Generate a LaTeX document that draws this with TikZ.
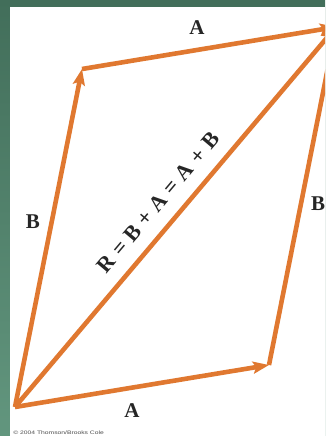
\documentclass[tikz,border=0pt]{standalone}
\usepackage{fontspec}
\setmainfont{Liberation Serif}
\newfontfamily\smallsans{Liberation Sans}
\usetikzlibrary{arrows.meta}
\definecolor{vecorange}{RGB}{224,120,48}
\definecolor{greentop}{RGB}{66,110,90}
\definecolor{greenbot}{RGB}{98,150,126}
\tikzset{
  vec/.style={draw=vecorange, line width=4.6pt, -{Stealth[length=16pt,width=12pt,inset=3pt]}},
  lab/.style={font=\fontsize{21}{21}\selectfont\bfseries, text=black!85, inner sep=0pt},
}
\begin{document}
\begin{tikzpicture}[x=1pt,y=-1pt]
\useasboundingbox (0,0) rectangle (325,436);
\shade[top color=greentop, bottom color=greenbot] (0,0) rectangle (325,436);
\fill[white] (10,7) rectangle (325,436);
\begin{scope}
\clip (10,7) rectangle (325,436);
\coordinate (O) at (15,407);
\coordinate (P) at (269,365);
\coordinate (Q) at (82,69);
\coordinate (T) at (336,27);
\draw[vec] (O) -- (P);
\draw[vec] (O) -- (Q);
\draw[vec] (Q) -- (T);
\draw[vec] (P) -- (T);
\draw[vec] (O) -- node[pos=0.5, sloped, above=13pt, lab, font=\fontsize{22}{22}\selectfont\bfseries] (rl) {R\hspace{0.28em}=\hspace{0.28em}B\hspace{0.28em}+\hspace{0.28em}A\hspace{0.28em}=\hspace{0.28em}A\hspace{0.28em}+\hspace{0.28em}B} (T);
\node[lab] (at) at (197,28) {A};
\node[lab] (ab) at (132,411) {A};
\node[lab] (bl) at (33,222) {B};
\node[lab] (br) at (318,204) {B};
\end{scope}
\node[font=\smallsans\fontsize{5}{5}\selectfont, text=black!70, anchor=west, inner sep=0pt, xscale=1.35] (cr) at (13,433) {© 2004 Thomson/Brooks Cole};
\end{tikzpicture}
\end{document}
